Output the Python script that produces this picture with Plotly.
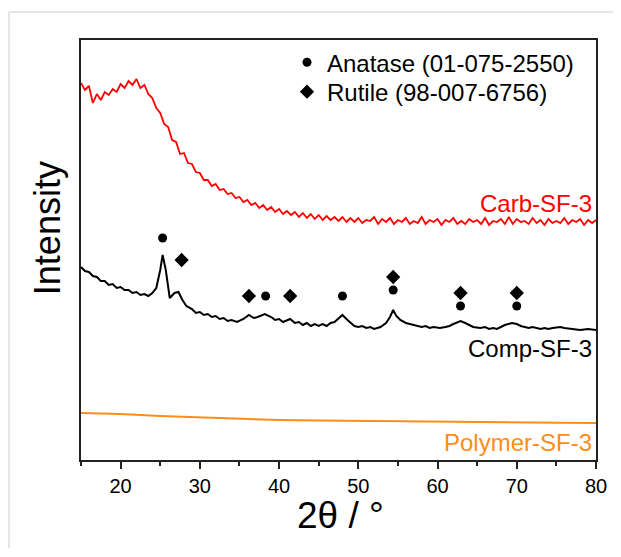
import plotly.graph_objects as go

# ---------------- data ----------------
red_x = [15 + 0.5 * i for i in range(131)]
red_y = [
    377, 370, 374, 357, 366, 360, 368, 365, 371, 368,
    376, 372, 379, 375, 381, 372, 375, 366, 362, 352,
    347, 336, 333, 320, 318, 306, 307, 297, 296, 288,
    287, 280, 280, 274, 276, 270, 271, 266, 267, 262,
    263, 258, 260, 255, 257, 252, 255, 250, 253, 248,
    251, 246, 249, 245, 248, 243, 247, 242, 246, 241,
    245, 240, 244, 240, 243, 239, 243, 238, 242, 238,
    242, 237, 240, 239, 243, 236, 241, 238, 242, 236,
    240, 238, 242, 236, 239, 237, 243, 236, 240, 238,
    241, 235, 240, 238, 242, 236, 239, 236, 241, 238,
    240, 236, 242, 235, 239, 238, 241, 236, 243, 236,
    241, 238, 239, 236, 242, 237, 240, 235, 241, 237,
    239, 237, 242, 236, 240, 238, 241, 235, 240, 237,
    240,
]

black_x = [
    15, 15.5, 16, 16.5, 17, 17.5, 18, 18.5, 19, 19.5,
    20, 20.5, 21, 21.5, 22, 22.5, 23, 23.5, 24, 24.5,
    25.0, 25.3, 25.7, 26.2, 26.8, 27.3, 27.8, 28.3, 29, 29.5,
    30, 30.5, 31, 31.5, 32, 32.5, 33, 33.5, 34, 34.7,
    35.5, 36.2, 36.8, 37.3, 38.2, 39, 39.5, 40, 40.5, 41,
    41.4, 42, 42.5, 43, 43.5, 44, 44.5, 45, 45.5, 46,
    46.5, 47, 47.5, 48, 48.5, 49, 49.5, 50, 50.5, 51,
    51.5, 52, 52.8, 53.5, 54, 54.4, 54.8, 55.3, 56, 56.5,
    57, 57.5, 58, 58.5, 59, 59.5, 60.3, 61, 61.5, 62,
    62.9, 63.5, 64, 64.5, 65.4, 66, 66.5, 67, 67.5, 68,
    68.5, 69.4, 70, 70.5, 71, 71.5, 72, 72.6, 73, 73.5,
    74, 74.5, 75.5, 76, 77, 78, 79, 80,
]
black_y = [
    193, 189, 188, 184, 183, 179, 179, 175, 176, 172,
    173, 170, 170, 167, 168, 165, 166, 164, 167, 172,
    190, 205, 190, 162, 167, 168, 160, 154, 151, 147,
    148, 145, 146, 143, 144, 141, 142, 139, 140, 138,
    141, 145, 142, 143, 146, 143, 140, 141, 138, 140,
    141, 137, 138, 135, 137, 134, 136, 134, 136, 134,
    137, 138, 142, 145, 141, 137, 134, 133, 134, 132,
    133, 131, 133, 137, 143, 150, 144, 140, 137, 136,
    135, 134, 133, 134, 132, 133, 132, 133, 134, 136,
    139, 137, 135, 133, 132, 133, 131, 132, 131, 133,
    135, 137, 136, 134, 133, 132, 133, 132, 131, 132,
    131, 132, 133, 132, 131, 130, 131, 130,
]

orange_x = [15, 17.5, 20, 25, 30, 35, 40, 45, 50, 55, 60, 65, 70, 75, 80]
orange_y = [47, 46.5, 46, 44, 42.5, 41, 40, 39.5, 39, 38.5, 38, 37.8, 37.5, 37.2, 37]

anatase_x = [25.3, 38.3, 48.0, 54.4, 62.9, 70.0]
anatase_y = [222, 164, 164, 170, 154, 154]
rutile_x = [27.7, 36.2, 41.4, 54.4, 62.9, 70.0]
rutile_y = [200, 164, 164, 183, 167, 167]

labels = ["Carb-SF-3", "Comp-SF-3", "Polymer-SF-3"]
label_y = [257, 112, 18]
label_colors = ["#FF0000", "#000000", "#FF8C1A"]

x_ticks = [20, 30, 40, 50, 60, 70, 80]

# ---------------- figure ----------------
FONT = "Liberation Sans, Arial, sans-serif"
fig = go.Figure()

fig.add_trace(go.Scatter(x=red_x, y=red_y, mode="lines",
                         line=dict(color="#FF0000", width=1.8), showlegend=False))
fig.add_trace(go.Scatter(x=black_x, y=black_y, mode="lines",
                         line=dict(color="#000000", width=2), showlegend=False))
fig.add_trace(go.Scatter(x=orange_x, y=orange_y, mode="lines",
                         line=dict(color="#FF8C1A", width=2), showlegend=False))

fig.add_trace(go.Scatter(x=anatase_x, y=anatase_y, mode="markers",
                         name="Anatase (01-075-2550)", legend="legend",
                         marker=dict(symbol="circle", size=9, color="black")))
fig.add_trace(go.Scatter(x=rutile_x, y=rutile_y, mode="markers",
                         name="Rutile (98-007-6756)", legend="legend2",
                         marker=dict(symbol="diamond", size=11, color="black")))

for t, yv, c in zip(labels, label_y, label_colors):
    fig.add_annotation(x=80, y=yv, text=t, showarrow=False, xanchor="right",
                       yanchor="middle", xshift=-2,
                       font=dict(family=FONT, size=24, color=c))

# axis titles as annotations
fig.add_annotation(xref="paper", yref="paper", x=0.503, y=-0.131, text="2θ / °",
                   showarrow=False, xanchor="center", yanchor="middle",
                   font=dict(family=FONT, size=37, color="black"))
fig.add_annotation(xref="paper", yref="paper", x=-0.066, y=0.552, text="Intensity",
                   showarrow=False, xanchor="center", yanchor="middle", textangle=-90,
                   font=dict(family=FONT, size=36, color="black"))

# light gray frame around the figure (top and left edges)
fig.add_shape(type="line", xref="paper", yref="paper", x0=-0.1398, x1=1.2,
              y0=1.0667, y1=1.0667, line=dict(color="#DDDDDD", width=1.5))
fig.add_shape(type="line", xref="paper", yref="paper", x0=-0.1398, x1=-0.1398,
              y0=1.0667, y1=-0.3, line=dict(color="#DDDDDD", width=1.5))

leg_common = dict(xanchor="left", yanchor="middle", bgcolor="rgba(0,0,0,0)",
                  font=dict(family=FONT, size=24, color="black"))

fig.update_layout(
    width=613, height=540,
    margin=dict(l=73, r=25, t=32, b=88),
    paper_bgcolor="white", plot_bgcolor="white",
    font=dict(family=FONT, color="black"),
    legend=dict(x=0.40, y=0.946, **leg_common),
    legend2=dict(x=0.40, y=0.876, **leg_common),
    xaxis=dict(range=[15, 80], tickvals=x_ticks, ticks="outside", ticklen=7,
               tickwidth=1.5, tickcolor="#222", showline=True, linewidth=1.5,
               linecolor="#222", mirror=True, showgrid=False, zeroline=False,
               tickfont=dict(family=FONT, size=20, color="black"),
               minor=dict(dtick=5, tick0=15, ticks="outside", ticklen=4,
                          tickwidth=1.5, tickcolor="#222", showgrid=False)),
    yaxis=dict(range=[0, 420], showticklabels=False, ticks="", showline=True,
               linewidth=1.5, linecolor="#222", mirror=True, showgrid=False,
               zeroline=False),
)

fig.write_html("out.html")
